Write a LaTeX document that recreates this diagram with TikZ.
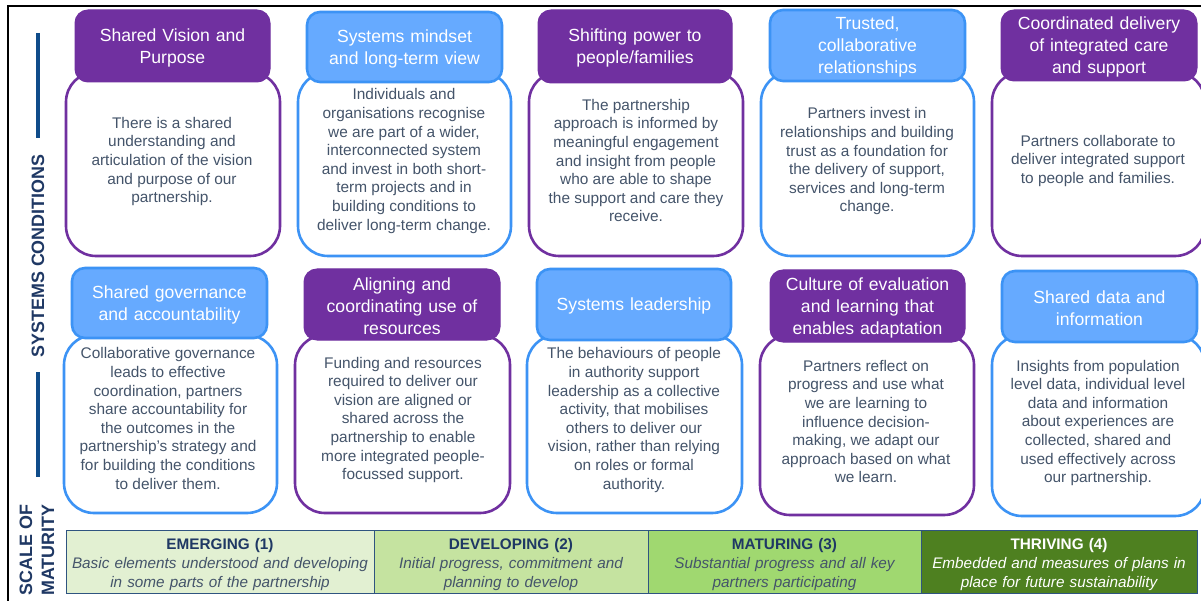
\documentclass[tikz,border=0pt]{standalone}
\usepackage{fontspec}
\setmainfont{Liberation Sans}
\definecolor{purp}{HTML}{7030A0}
\definecolor{blu}{HTML}{3C93F5}
\definecolor{blufill}{HTML}{66AAFF}
\definecolor{ink}{HTML}{44546A}
\definecolor{navy}{HTML}{1F3864}
\definecolor{barline}{HTML}{0F4C8A}
\definecolor{barborder}{HTML}{2F5480}
\definecolor{sa}{RGB}{226,240,210}
\definecolor{sb}{RGB}{197,227,160}
\definecolor{sc}{RGB}{160,216,112}
\definecolor{sd}{RGB}{78,128,32}
\tikzset{
  x=1pt,y=-1pt,
  every node/.style={outer sep=0pt},
  bodybox/.style 2 args={draw,line width=2.6pt,rounded corners=30pt,fill=white,inner sep=0pt,anchor=north west,minimum width=#1pt,minimum height=#2pt},
  pb/.style 2 args={bodybox={#1}{#2},draw=purp},
  bb/.style 2 args={bodybox={#1}{#2},draw=blu},
  bodytext/.style={inner sep=0pt,align=center,text=ink,font=\fontsize{15.4}{18.6}\selectfont},
  headbox/.style 2 args={rounded corners=13pt,inner sep=0pt,align=center,text=white,font=\fontsize{17.6}{22}\selectfont,anchor=north west,minimum width=#1pt,minimum height=#2pt,text width=#1pt-2pt,execute at begin node={\rule{0pt}{16.5pt}}},
  headp/.style 2 args={headbox={#1}{#2},draw=purp,fill=purp,line width=1pt},
  headb/.style 2 args={headbox={#1}{#2},draw=blu,fill=blufill,line width=2.6pt},
  scalecell/.style={draw=barborder,line width=1pt,inner sep=0pt,align=center,anchor=north west,minimum height=63pt,font=\fontsize{15.3}{18.6}\selectfont,execute at begin node={\rule{0pt}{16pt}}},
  sidelabel/.style={rotate=90,text=navy,font=\fontsize{17.9}{22}\selectfont\bfseries,align=center,inner sep=0pt},
  sidebar/.style={draw=barline,line width=3.4pt},
  frameline/.style={draw=black,line width=2pt}
}
\begin{document}
\begin{tikzpicture}
\useasboundingbox (0,0) rectangle (1201,601);
\clip (0,0) rectangle (1201,601);
\fill[white] (0,0) rectangle (1201,601);
\coordinate (ftl) at (8,6);
\coordinate (ftr) at (1201,6);
\coordinate (fbl) at (8,601);
\draw[frameline] (fbl) -- (ftl) -- (ftr);

% side labels
\node[sidelabel] (sys) at (38,256) {SYSTEMS CONDITIONS};
\coordinate (l1a) at (38,33); \coordinate (l1b) at (38,138);
\coordinate (l2a) at (38,372); \coordinate (l2b) at (38,477);
\draw[sidebar] (l1a) -- (l1b);
\draw[sidebar] (l2a) -- (l2b);
\node[sidelabel] (scale) at (37,550) {SCALE OF\\MATURITY};

% top row bodies
\node[pb={214}{184}] (b1) at (66,72) {};
\node[bb={213}{184}] (b2) at (298,72) {};
\node[pb={214}{184}] (b3) at (529,72) {};
\node[bb={213}{184}] (b4) at (761,72) {};
\node[pb={213}{184}] (b5) at (992,72) {};
\node[bodytext] (t1) at (172,161.5) {There is a shared\\understanding and\\articulation of the vision\\and purpose of our\\partnership.};
\node[bodytext] (t2) at (404,161) {Individuals and\\organisations recognise\\we are part of a wider,\\interconnected system\\and invest in both short-\\term projects and in\\building conditions to\\deliver long-term change.};
\node[bodytext] (t3) at (636,160.5) {The partnership\\approach is informed by\\meaningful engagement\\and insight from people\\who are able to shape\\the support and care they\\receive.};
\node[bodytext] (t4) at (867,161.5) {Partners invest in\\relationships and building\\trust as a foundation for\\the delivery of support,\\services and long-term\\change.};
\node[bodytext] (t5) at (1098,161) {Partners collaborate to\\deliver integrated support\\to people and families.};
% top row headers
\node[headp={195}{72}] (h1) at (75,10) {Shared Vision and\\Purpose};
\node[headb={195}{70}] (h2) at (307,12) {Systems mindset\\and long-term view};
\node[headp={194}{73}] (h3) at (538,10) {Shifting power to\\people/families};
\node[headb={195}{71}] (h4) at (770,10) {Trusted,\\collaborative\\relationships};
\node[headp={196}{71}] (h5) at (1001,10) {Coordinated delivery\\of integrated care\\and support};

% bottom row bodies
\node[bb={213}{178}] (c1) at (64,335) {};
\node[pb={215}{178}] (c2) at (295,335) {};
\node[bb={215}{178}] (c3) at (527,335) {};
\node[pb={214}{180}] (c4) at (760,335) {};
\node[bb={213}{181}] (c5) at (992,335) {};
\node[bodytext] (u1) at (168,418.5) {Collaborative governance\\leads to effective\\coordination, partners\\share accountability for\\the outcomes in the\\partnership’s strategy and\\for building the conditions\\to deliver them.};
\node[bodytext] (u2) at (403,420) {Funding and resources\\required to deliver our\\vision are aligned or\\shared across the\\partnership to enable\\more integrated people-\\focussed support.};
\node[bodytext] (u3) at (634,420) {The behaviours of people\\in authority support\\leadership as a collective\\activity, that mobilises\\others to deliver our\\vision, rather than relying\\on roles or formal\\authority.};
\node[bodytext] (u4) at (866,421.5) {Partners reflect on\\progress and use what\\we are learning to\\influence decision-\\making, we adapt our\\approach based on what\\we learn.};
\node[bodytext] (u5) at (1098,423) {Insights from population\\level data, individual level\\data and information\\about experiences are\\collected, shared and\\used effectively across\\our partnership.};
% bottom row headers
\node[headb={195}{70}] (k1) at (72,268) {Shared governance\\and accountability};
\node[headp={196}{71}] (k2) at (304,269) {Aligning and\\coordinating use of\\resources};
\node[headb={194}{71}] (k3) at (537,269) {Systems leadership};
\node[headp={195}{72}] (k4) at (770,270) {Culture of evaluation\\and learning that\\enables adaptation};
\node[headb={195}{71}] (k5) at (1002,271) {Shared data and\\information};

% scale bar
\node[scalecell,fill=sa,text=ink,minimum width=308pt,text width=306pt] (s1) at (66,530.5)
  {{\bfseries\color{navy}EMERGING (1)}\\\itshape Basic elements understood and developing\\\itshape in some parts of the partnership};
\node[scalecell,fill=sb,text=ink,minimum width=274pt,text width=270pt] (s2) at (374,530.5)
  {{\bfseries\color{navy}DEVELOPING (2)}\\\itshape Initial progress, commitment and\\\itshape planning to develop};
\node[scalecell,fill=sc,text=ink,minimum width=273pt,text width=269pt] (s3) at (648,530.5)
  {{\bfseries\color{navy}MATURING (3)}\\\itshape Substantial progress and all key\\\itshape partners participating};
\node[scalecell,fill=sd,text=white,minimum width=276pt,text width=272pt] (s4) at (921,530.5)
  {{\bfseries THRIVING (4)}\\\itshape Embedded and measures of plans in\\\itshape place for future sustainability};
\end{tikzpicture}
\end{document}
